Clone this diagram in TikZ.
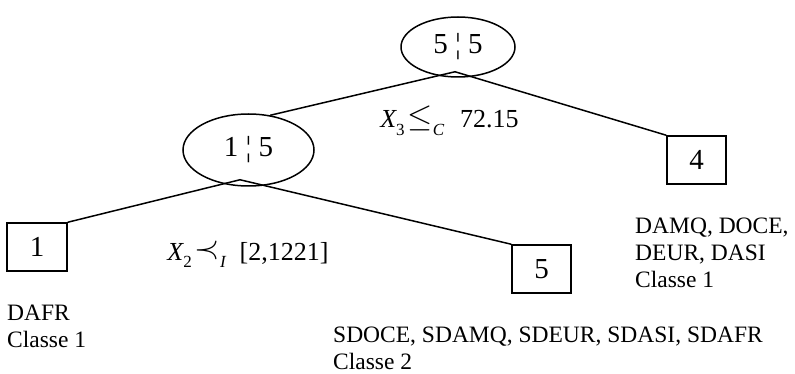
\documentclass[tikz,border=0pt]{standalone}
\usepackage{fontspec}
\usepackage{graphicx}
\setmainfont{Liberation Serif}
\usetikzlibrary{shapes.geometric,calc}
\newcommand\lowsub[1]{\raisebox{-0.3em}{\fontsize{17}{17}\selectfont #1}}
\newcommand\bigrel[1]{\raisebox{0.05em}{\scalebox{1.3}{$#1$}}}
\tikzset{
  split/.style={draw, ellipse, line width=1.5pt, inner sep=0pt, font=\fontsize{29}{29}\selectfont},
  leaf/.style={draw, rectangle, line width=1.5pt, inner sep=0pt, minimum width=59pt, minimum height=48pt, font=\fontsize{29}{29}\selectfont},
  edge/.style={line width=1.5pt},
  cond/.style={anchor=base, inner sep=0pt, font=\fontsize{26}{26}\selectfont},
  info/.style={anchor=base west, inner sep=0pt, font=\fontsize{23.5}{27}\selectfont},
}
\begin{document}
\begin{tikzpicture}[x=1pt,y=-1pt]
\useasboundingbox (0,0) rectangle (795,374);
% split nodes
\node[split, minimum width=114pt, minimum height=60pt] (root) at (458,47) {5 ¦ 5\hspace{6pt}};
\node[split, minimum width=131pt, minimum height=72pt] (left) at (248.5,150) {1 ¦ 5\hspace{17pt}};
\coordinate (ra) at ($(root.south)+(-3,-6)$);
\coordinate (la) at ($(left.south)+(-8.5,-7)$);
% leaves
\node[leaf, minimum width=60pt] (b1) at (37,247) {1};
\node[leaf] (b5) at (541.5,269) {5};
\node[leaf] (b4) at (696.5,160) {4};
% edges
\draw[edge] (left.58) -- (ra) -- (b4.north west);
\draw[edge] (b1.north east) -- (la) -- (b5.north west);
% conditions
\node[cond] (c3) at (449.5,128) {{\itshape X}\lowsub{3}\hspace{3pt}\bigrel{\leq}\lowsub{\itshape C}\hspace{16pt}72.15};
\node[cond] (c2) at (248,260) {{\itshape X}\lowsub{2}\hspace{3pt}\bigrel{\prec}\lowsub{\itshape I}\hspace{14pt}[2,1221]};
% leaf descriptions
\node[info] (t4a) at (635,233.5) {DAMQ, DOCE,};
\node[info] (t4b) at (635,260.5) {DEUR, DASI};
\node[info] (t4c) at (635,287.5) {Classe 1};
\node[info] (t1a) at (7,320.5) {DAFR};
\node[info] (t1b) at (7,347.5) {Classe 1};
\node[info] (t5a) at (333,342.5) {SDOCE, SDAMQ, SDEUR, SDASI, SDAFR};
\node[info] (t5b) at (333,369.5) {Classe 2};
\end{tikzpicture}
\end{document}
